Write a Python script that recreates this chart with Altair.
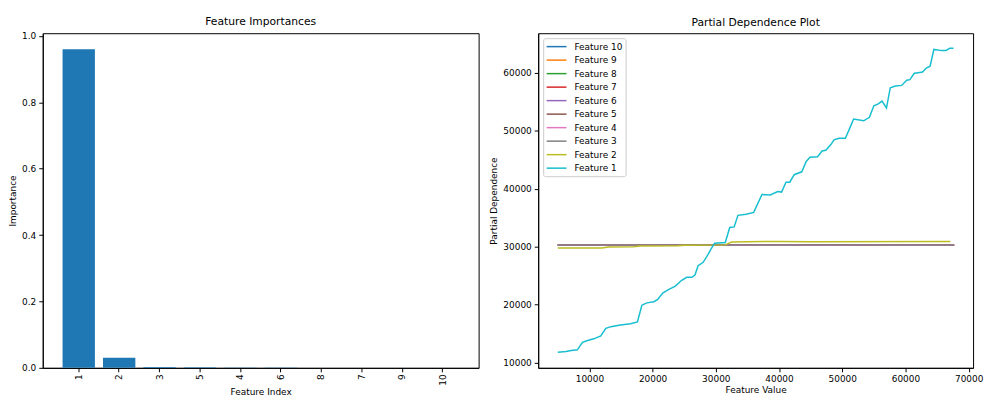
import altair as alt
import pandas as pd

# ---- Feature importances ----
feat_idx = ["1", "2", "3", "5", "4", "6", "8", "7", "9", "10"]
importance = [0.960, 0.030, 0.0025, 0.0018, 0.0012, 0.0009, 0.0004, 0.0003, 0.0002, 0.0001]

# ---- Partial dependence ----
f1_x = [5000, 6300, 7100, 8100, 8900, 9700, 10700, 11800, 12600, 13400, 14900, 16500, 17600,
        18300, 19100, 20200, 20800, 21600, 22500, 23600, 24600, 25400, 26200, 26700, 27200,
        28000, 28800, 29100, 29800, 31500, 32200, 32900, 33500, 34800, 36000, 37300, 38600,
        39800, 40400, 41100, 41700, 42400, 43600, 44300, 44900, 46100, 46800, 47400, 48200,
        48700, 49500, 50500, 51300, 51800, 53400, 54300, 55000, 55700, 56300, 57000, 57600,
        58400, 59400, 60200, 60700, 61400, 62000, 62700, 63300, 63900, 64500, 65700, 66400,
        67000, 67600]
f1_y = [11800, 11900, 12100, 12200, 13500, 13800, 14100, 14600, 15900, 16200, 16500, 16700, 17000,
        19900, 20300, 20500, 20900, 22000, 22600, 23200, 24200, 24700, 24700, 25100, 26700,
        27300, 28700, 29300, 30600, 30700, 33300, 33400, 35400, 35600, 35900, 39000, 38900,
        39500, 39400, 41100, 41100, 42400, 42900, 44700, 45400, 45500, 46500, 46600, 47600,
        48400, 48700, 48700, 50700, 52000, 51700, 52300, 54300, 54600, 55100, 53900, 57400,
        57700, 57800, 58700, 58800, 59900, 60000, 60100, 60800, 61100, 64000, 63800, 63800,
        64200, 64200]

f2_x = [5000, 12000, 13000, 17000, 18000, 24000, 25000, 31500, 32500, 40000, 45000, 67100]
f2_y = [29750, 29780, 29950, 29980, 30100, 30150, 30250, 30300, 30800, 30900, 30850, 30900]

flat_x = [5000, 15000, 25000, 30000, 35000, 45000, 55000, 67700]
f3_y = [30280, 30280, 30270, 30270, 30260, 30260, 30260, 30260]
f4_y = [30260, 30260, 30260, 30250, 30250, 30250, 30250, 30250]
f5_y = [30270, 30270, 30260, 30250, 30240, 30240, 30240, 30240]
f6_y = [30250, 30250, 30250, 30250, 30240, 30240, 30240, 30240]
f7_y = [30260, 30260, 30250, 30240, 30230, 30220, 30230, 30240]
f8_y = [30250, 30250, 30250, 30250, 30250, 30250, 30250, 30250]
f9_y = [30250, 30250, 30250, 30250, 30250, 30250, 30250, 30250]
f10_y = [30250, 30250, 30250, 30250, 30250, 30250, 30250, 30250]

series_names = ["Feature 10", "Feature 9", "Feature 8", "Feature 7", "Feature 6",
                "Feature 5", "Feature 4", "Feature 3", "Feature 2", "Feature 1"]
series_colors = ["#1f77b4", "#ff7f0e", "#2ca02c", "#d62728", "#9467bd",
                 "#8c564b", "#e377c2", "#7f7f7f", "#bcbd22", "#17becf"]

FONT = "DejaVu Sans"
LBL = 9.0

# build tables
bar_df = pd.DataFrame({"idx": feat_idx, "imp": importance})

rows = []
flat = {"Feature 10": f10_y, "Feature 9": f9_y, "Feature 8": f8_y, "Feature 7": f7_y,
        "Feature 6": f6_y, "Feature 5": f5_y, "Feature 4": f4_y, "Feature 3": f3_y}
for name, ys in flat.items():
    for x, y in zip(flat_x, ys):
        rows.append({"series": name, "x": x, "y": y, "grp": 0})
for x, y in zip(f2_x, f2_y):
    rows.append({"series": "Feature 2", "x": x, "y": y, "grp": 1})
for x, y in zip(f1_x, f1_y):
    rows.append({"series": "Feature 1", "x": x, "y": y, "grp": 2})
pd_df = pd.DataFrame(rows)

title_style = dict(fontSize=10.8, font=FONT, fontWeight="normal", color="black", offset=5)

left = alt.Chart(bar_df).mark_bar(color="#1f77b4").encode(
    x=alt.X("idx:N", sort=None,
            scale=alt.Scale(paddingInner=0.2, paddingOuter=0.49),
            axis=alt.Axis(title="Feature Index", labelAngle=270, labelAlign="right",
                          labelBaseline="middle", labelPadding=2, titlePadding=2)),
    y=alt.Y("imp:Q", scale=alt.Scale(domain=[0, 1.008], nice=False),
            axis=alt.Axis(title="Importance", values=[0, 0.2, 0.4, 0.6, 0.8, 1.0], format=".1f")),
).properties(width=439, height=337,
             title=alt.TitleParams("Feature Importances", **title_style))

color_scale = alt.Scale(domain=series_names, range=series_colors)

def layer_for(g):
    return alt.Chart(pd_df).transform_filter(alt.datum.grp == g).mark_line(strokeWidth=1.5).encode(
        x=alt.X("x:Q", scale=alt.Scale(domain=[1900, 70700], nice=False, zero=False),
                axis=alt.Axis(title="Feature Value", values=[10000, 20000, 30000, 40000, 50000, 60000, 70000],
                              format="d", titlePadding=2)),
        y=alt.Y("y:Q", scale=alt.Scale(domain=[9100, 66800], nice=False, zero=False),
                axis=alt.Axis(title="Partial Dependence",
                              values=[10000, 20000, 30000, 40000, 50000, 60000], format="d")),
        color=alt.Color("series:N", scale=color_scale, sort=series_names,
                        legend=alt.Legend(title=None, orient="top-left", offset=5,
                                          symbolType="M-1,0H3", symbolSize=100, symbolStrokeWidth=1.5,
                                          labelOffset=17,
                                          labelFontSize=9, labelFont=FONT, labelColor="black",
                                          padding=2.5, rowPadding=2.6, strokeColor="#cccccc",
                                          fillColor="white", cornerRadius=2)),
        detail="series:N",
    )

right = alt.layer(layer_for(0), layer_for(1), layer_for(2)).properties(
    width=438, height=337,
    title=alt.TitleParams("Partial Dependence Plot", **title_style))

chart = alt.hconcat(left, right, spacing=9).resolve_scale(color="independent").resolve_legend(
    color="independent"
).properties(
    padding={"left": 0, "top": 6, "right": 0, "bottom": 0}
).configure_view(stroke="black", strokeWidth=1).configure_axis(
    grid=False, domainColor="black", tickColor="black", tickSize=4, labelPadding=3,
    labelFontSize=LBL, labelFont=FONT, labelColor="black",
    titleFontSize=LBL, titleFont=FONT, titleFontWeight="normal", titleColor="black",
    titlePadding=4,
).configure_axisX(labelFlush=False)

chart.save("out.html", embed_options={"renderer": "svg", "actions": False})
